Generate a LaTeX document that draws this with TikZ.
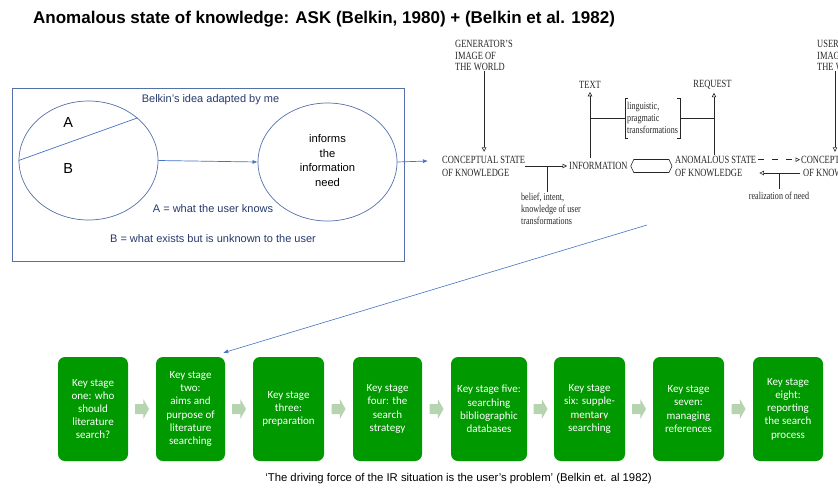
\documentclass[tikz,border=0pt]{standalone}
\usepackage{fontspec}
\setmainfont{Liberation Sans}
\newfontfamily\scanfont[FakeStretch=0.77]{Liberation Serif}
\newfontfamily\calfont{Carlito}
\usetikzlibrary{arrows.meta,calc,shapes.geometric,decorations.pathmorphing}
\definecolor{boxblue}{HTML}{5470AA}
\definecolor{lineblue}{HTML}{4472C4}
\definecolor{darkblue}{HTML}{253A6B}
\definecolor{stagegreen}{HTML}{009A00}
\definecolor{chev}{HTML}{B7D4B0}
\definecolor{scanink}{HTML}{262626}
\tikzset{
  scantxt/.style={font=\scanfont\fontsize{11}{11.5}\selectfont, text=scanink, inner sep=0pt},
  scansmall/.style={font=\scanfont\fontsize{10.5}{11.8}\selectfont, text=scanink, inner sep=0pt, align=left},
  scanline/.style={draw=scanink, line width=0.6pt},
  scanarrow/.style={scanline, -{Triangle[open,length=4.5pt,width=4.5pt]}},
  stagebox/.style={fill=stagegreen, rounded corners=7pt, text=white, font=\calfont\fontsize{11}{13.2}\selectfont, align=center, minimum height=104pt, inner sep=1pt},
  bluetxt/.style={font=\fontsize{11}{13}\selectfont, text=darkblue, inner sep=0pt},
  bluearrow/.style={draw=lineblue, line width=0.7pt, -{Latex[length=5pt,width=4pt]}},
  ovalbox/.style={ellipse, draw=boxblue, line width=0.7pt, inner sep=0pt}
}
\newcommand\chevronat[1]{%
  \fill[chev] ($(#1)+(-7,-5)$) -- ($(#1)+(1.3,-5)$) -- ($(#1)+(1.3,-10)$) -- ($(#1)+(7,0)$)
    -- ($(#1)+(1.3,10)$) -- ($(#1)+(1.3,5)$) -- ($(#1)+(-7,5)$) -- cycle;}
\begin{document}
\begin{tikzpicture}[x=1pt,y=-1pt]
\useasboundingbox (0,0) rectangle (838,490);
\clip (0,0) rectangle (838,490);

% title
\node[anchor=base west, inner sep=0pt, font=\bfseries\fontsize{17}{20}\selectfont] (title) at (33,23)
  {Anomalous state of knowledge: ASK (Belkin, 1980) + (Belkin et al. 1982)};

% left framed diagram
\node[draw=boxblue, line width=0.7pt, anchor=north west, minimum width=392pt, minimum height=173pt, inner sep=0pt] (frame) at (12,88) {};
\node[bluetxt, anchor=base] (adapt) at (210.5,102.7) {Belkin’s idea adapted by me};
\node[ovalbox, minimum width=139pt, minimum height=119pt] (ellA) at (88.5,160.5) {};
\draw[draw=lineblue, line width=0.7pt] (ellA.west) -- (ellA.41);
\node[inner sep=0pt, font=\fontsize{14.5}{16}\selectfont] (lA) at (68.3,122.7) {A};
\node[inner sep=0pt, font=\fontsize{14.5}{16}\selectfont] (lB) at (68.3,168.3) {B};
\node[ovalbox, minimum width=139pt, minimum height=118pt] (ellB) at (327.5,162) {};
\node[inner sep=0pt, align=center, font=\fontsize{11.2}{14.8}\selectfont] (need) at (327.5,160.5)
  {informs\\the\\information\\need};
\node[bluetxt, anchor=base] (defA) at (213,212.7) {A = what the user knows};
\node[bluetxt, anchor=base] (defB) at (213,242.7) {B = what exists but is unknown to the user};
\draw[bluearrow] (ellA.east) -- (ellB.west);
\coordinate (csin) at (428,161);
\draw[bluearrow] (ellB.east) -- (csin);

% Belkin et al. scanned diagram
\node[scantxt, align=left, anchor=north west] (gen) at (455,40) {GENERATOR’S\\IMAGE OF\\THE WORLD};
\node[scantxt, anchor=west] (cs1a) at (442,159.7) {CONCEPTUAL STATE};
\node[scantxt, anchor=west] (cs1b) at (442,173) {OF KNOWLEDGE};
\node[scantxt, anchor=west] (info) at (569,166) {INFORMATION};
\node[scantxt] (text) at (590,84.5) {TEXT};
\node[scantxt] (req) at (712.5,84.5) {REQUEST};
\node[scantxt, anchor=west] (anom1) at (675,159.7) {ANOMALOUS STATE};
\node[scantxt, anchor=west] (anom2) at (675,173) {OF KNOWLEDGE};
\node[scantxt, anchor=west] (cs2a) at (801,159.7) {CONCEPTUAL STATE};
\node[scantxt, anchor=west] (cs2b) at (803,173) {OF KNOWLEDGE};
\node[scantxt, align=left, anchor=north west] (user) at (817,40) {USER’S\\IMAGE OF\\THE WORLD};
\node[scansmall, anchor=north west] (belief) at (521,193) {belief, intent,\\knowledge of user\\transformations};
\node[scansmall, anchor=north] (real) at (779,192) {realization of need};
\node[scansmall, inner xsep=2pt, minimum height=40pt, anchor=west] (ling) at (625,118) {linguistic,\\pragmatic\\transformations};

\draw[scanarrow, shorten >=4pt] (gen.south) -- (gen.south |- cs1a.north);
\draw[scanarrow, shorten >=2pt] (cs1a.east |- info.west) -- (info.west);
\coordinate (bj) at ($(cs1a.east |- info.west)!0.5!(info.west)$);
\draw[scanline, shorten >=1pt] (bj) -- (bj |- belief.north);
\draw[scanarrow, shorten <=4pt, shorten >=3.5pt] (text.south |- info.north) -- (text.south);
\coordinate (reqx) at ([xshift=1.5pt]req.south);
\draw[scanarrow, shorten <=1pt, shorten >=3.5pt] (reqx |- anom1.north) -- (reqx);
\draw[scanline] ([xshift=3pt]ling.north west) -- (ling.north west) -- (ling.south west) -- ([xshift=3pt]ling.south west);
\draw[scanline] ([xshift=-3pt]ling.north east) -- (ling.north east) -- (ling.south east) -- ([xshift=-3pt]ling.south east);
\draw[scanline] (text.south |- ling.west) -- (ling.west);
\draw[scanline] (ling.east) -- (reqx |- ling.east);
\coordinate (dl) at ($(info.east)+(3,0)$);
\coordinate (dr) at ($(anom1.west |- info.east)+(-3,0)$);
\draw[scanline] (dl) -- ($(dl)+(3,-6.5)$) -- ($(dr)+(-3,-6.5)$) -- (dr) -- ($(dr)+(-3,6.5)$) -- ($(dl)+(3,6.5)$) -- cycle;
\draw[scanarrow, dash pattern=on 6pt off 8pt, shorten <=2pt, shorten >=1pt] (anom1.east) -- (cs2a.west);
\draw[scanarrow, shorten <=1pt, shorten >=3pt] (cs2a.west |- cs2b.west) -- (anom1.east |- cs2b.west);
\coordinate (rj) at (real.north |- cs2b.west);
\draw[scanline, shorten >=3.5pt] (rj) -- (real.north);
\coordinate (udrop) at ([xshift=18pt]user.south west);
\draw[scanarrow, shorten >=4pt] (udrop) -- (udrop |- cs2a.north);

% key stages
\node[stagebox, minimum width=70pt] (stage1) at (93,409) {Key stage\\one: who\\should\\literature\\search?};
\node[stagebox, minimum width=69pt] (stage2) at (190.5,409) {Key stage\\two:\\aims and\\purpose of\\literature\\searching};
\node[stagebox, minimum width=71pt] (stage3) at (288.5,409) {Key stage\\three:\\preparation};
\node[stagebox, minimum width=69pt] (stage4) at (387.5,409) {Key stage\\four: the\\search\\strategy};
\node[stagebox, minimum width=76pt] (stage5) at (489,409) {Key stage five:\\searching\\bibliographic\\databases};
\node[stagebox, minimum width=71pt] (stage6) at (589.5,409) {Key stage\\six: supple-\\mentary\\searching};
\node[stagebox, minimum width=71pt] (stage7) at (688.5,409) {Key stage\\seven:\\managing\\references};
\node[stagebox, minimum width=70pt] (stage8) at (788,409) {Key stage\\eight:\\reporting\\the search\\process};
\draw[red, line width=0.5pt, decorate, decoration={snake, amplitude=0.6pt, segment length=2.5pt}]
  ($(stage6.center)+(-19.5,10.3)$) -- ($(stage6.center)+(19.5,10.3)$);

\coordinate (ch1) at ($(stage1.east)!0.5!(stage2.west)$);
\coordinate (ch2) at ($(stage2.east)!0.5!(stage3.west)$);
\coordinate (ch3) at ($(stage3.east)!0.5!(stage4.west)$);
\coordinate (ch4) at ($(stage4.east)!0.5!(stage5.west)$);
\coordinate (ch5) at ($(stage5.east)!0.5!(stage6.west)$);
\coordinate (ch6) at ($(stage6.east)!0.5!(stage7.west)$);
\coordinate (ch7) at ($(stage7.east)!0.5!(stage8.west)$);
\chevronat{ch1}\chevronat{ch2}\chevronat{ch3}\chevronat{ch4}\chevronat{ch5}\chevronat{ch6}\chevronat{ch7}

\coordinate (bstart) at (647,225);
\draw[bluearrow, line width=0.6pt] (bstart) -- ([shift={(-2,-4)}]stage2.north east);

\node[anchor=base, inner sep=0pt, font=\fontsize{11.3}{13}\selectfont] (quote) at (458.5,481)
  {‘The driving force of the IR situation is the user’s problem’ (Belkin et. al 1982)};
\end{tikzpicture}
\end{document}
